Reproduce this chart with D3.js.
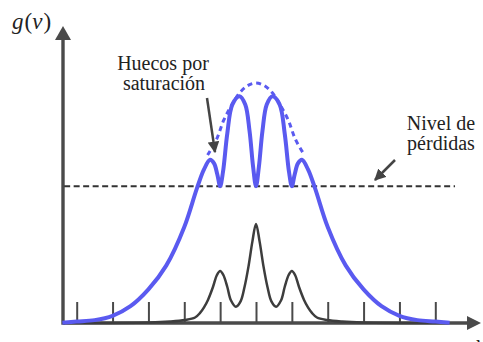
<!DOCTYPE html>
<meta charset="utf-8">
<style>
body{margin:0;background:#fff;}
.axisLine{stroke:#4a4a4a;stroke-width:3.4;fill:none;}
.modes line{stroke:#4a4a4a;stroke-width:2;}
.modes path{display:none;}
.loss{stroke:#333;stroke-width:2;stroke-dasharray:6,3.5;fill:none;}
.gain{stroke:#5a5af0;stroke-width:4;fill:none;stroke-linejoin:round;}
.envelope{stroke:#5a5af0;stroke-width:3;stroke-dasharray:5,4;fill:none;}
.output{stroke:#3d3d3d;stroke-width:2.5;fill:none;}
.note{stroke:#444;stroke-width:2.5;}
</style>
<body>
<script src="https://cdn.jsdelivr.net/npm/d3@7"></script>
<script>

// ---------- data (frequency in mode spacings from line centre, gain relative to peak) ----------

var modes = [-5,-4,-3,-2,-1,0,1,2,3,4,5];
var lossLevel = 0.57;

// saturated gain curve g(nu), with the holes burnt at the lasing modes
var gainNu = [-5.4,-5,-4.5,-4,-3.5,-3,-2.5,-2,-1.65,-1.45,-1.28,-1.17,-1.08,-1,-0.92,-0.8,-0.66,-0.46,-0.3,-0.18,-0.08,0,
              0.08,0.18,0.3,0.46,0.66,0.8,0.92,1,1.08,1.17,1.28,1.45,1.65,2,2.5,3,3.5,4,4.5,5,5.4];
var gainG  = [0.001,0.006,0.012,0.03,0.07,0.14,0.24,0.40,0.56,0.64,0.68,0.665,0.62,0.57,0.63,0.79,0.91,0.945,0.91,0.80,0.65,0.57,
              0.65,0.80,0.91,0.945,0.91,0.79,0.63,0.57,0.62,0.665,0.68,0.64,0.56,0.40,0.24,0.14,0.07,0.03,0.012,0.006,0.001];

// unsaturated gain (dashed, only drawn over the holes)
var envNu = [-1.35,-1.1,-0.9,-0.67,-0.45,-0.22,0,0.22,0.45,0.67,0.9,1.1,1.35];
var envG  = [0.70,0.765,0.845,0.91,0.96,0.99,1.0,0.99,0.96,0.91,0.845,0.765,0.70];

// laser output spectrum
var outNu = [-5.38,-2.96,-2.4,-1.98,-1.7,-1.56,-1.45,-1.34,-1.2,-1.09,-1,-0.91,-0.8,-0.7,-0.56,-0.43,-0.32,-0.21,-0.1,0,
             0.1,0.21,0.32,0.43,0.56,0.7,0.8,0.91,1,1.09,1.2,1.34,1.45,1.56,1.7,1.98,2.4,2.96,5.38];
var outG  = [0,0.002,0.006,0.0125,0.023,0.042,0.065,0.096,0.15,0.2,0.217,0.2,0.15,0.095,0.068,0.09,0.15,0.235,0.34,0.413,
             0.34,0.235,0.15,0.09,0.068,0.095,0.15,0.2,0.217,0.2,0.15,0.096,0.065,0.042,0.023,0.0125,0.006,0.002,0];

// ---------- layout ----------
var W = 483, H = 342;
var originX = 63, xEnd = 481, yTop = 26;
var serif = "'Liberation Serif', 'DejaVu Serif', Tinos, 'Times New Roman', Times, serif";

var x = d3.scaleLinear().domain([-5,5]).range([76.7,435.3]);
var y = d3.scaleLinear().domain([0,1]).range([323,83]);
var y0 = y(0);

var svg = d3.select("body").append("svg").attr("width",W).attr("height",H);

var defs = svg.append("defs");
defs.append("marker").attr("id","head")
    .attr("viewBox","0 0 10 10").attr("refX",9).attr("refY",5)
    .attr("markerWidth",4.6).attr("markerHeight",4.6).attr("markerUnits","strokeWidth")
    .attr("orient","auto")
  .append("path").attr("d","M0,0L10,5L0,10z").attr("fill","#444");

// mode ticks, pointing up from the frequency axis
svg.append("g").attr("class","modes")
    .attr("transform","translate(0,"+y0+")")
    .call(d3.axisTop(x).tickValues(modes).tickSize(21).tickFormat(""));

// axes with arrow tips
svg.append("line").attr("class","axisLine")
    .attr("x1",originX).attr("x2",xEnd-12).attr("y1",y0).attr("y2",y0);
svg.append("path").attr("fill","#4a4a4a")
    .attr("d","M"+xEnd+","+y0+"L"+(xEnd-14)+","+(y0-7)+"L"+(xEnd-14)+","+(y0+7)+"z");
svg.append("line").attr("class","axisLine")
    .attr("x1",originX).attr("x2",originX).attr("y1",y0+1.7).attr("y2",yTop+12);
svg.append("path").attr("fill","#4a4a4a")
    .attr("d","M"+originX+","+yTop+"L"+(originX-8)+","+(yTop+14)+"L"+(originX+8)+","+(yTop+14)+"z");

var line = d3.line()
    .x(function(d){ return x(d[0]); })
    .y(function(d){ return y(d[1]); })
    .curve(d3.curveCatmullRom.alpha(0.5));

// output spectrum
svg.append("path").attr("class","output").attr("d", line(d3.zip(outNu,outG)));

// loss level
svg.append("line").attr("class","loss")
    .attr("x1",x(-5.35)).attr("x2",x(5.55))
    .attr("y1",y(lossLevel)).attr("y2",y(lossLevel));

// gain curves
svg.append("path").attr("class","envelope").attr("d", line(d3.zip(envNu,envG)));
svg.append("path").attr("class","gain").attr("d", line(d3.zip(gainNu,gainG)));

// annotations
svg.append("line").attr("class","note").attr("marker-end","url(#head)")
    .attr("x1",207).attr("y1",98).attr("x2",215).attr("y2",152);
svg.append("line").attr("class","note").attr("marker-end","url(#head)")
    .attr("x1",395).attr("y1",160).attr("x2",375).attr("y2",180);

function label(tx, ty, s){
    svg.append("text").attr("x",tx).attr("y",ty)
        .attr("font-family",serif).attr("font-size",20).attr("fill","#222")
        .attr("text-anchor","middle").text(s);
}
label(163, 70, "Huecos por");
label(164, 90, "saturación");
label(441, 130, "Nivel de");
label(441, 150, "pérdidas");

// axis labels
var gl = svg.append("text").attr("x",12).attr("y",29)
    .attr("font-family",serif).attr("font-size",23).attr("fill","#222");
gl.append("tspan").attr("font-style","italic").text("g");
gl.append("tspan").attr("dx",1).text("(");
gl.append("tspan").attr("font-style","italic").text("ν");
gl.append("tspan").attr("dx",1).text(")");

svg.append("text").attr("x",476).attr("y",350)
    .attr("font-family",serif).attr("font-size",22).attr("fill","#222")
    .attr("font-style","italic").text("ν");

</script>
</body>
</html>
